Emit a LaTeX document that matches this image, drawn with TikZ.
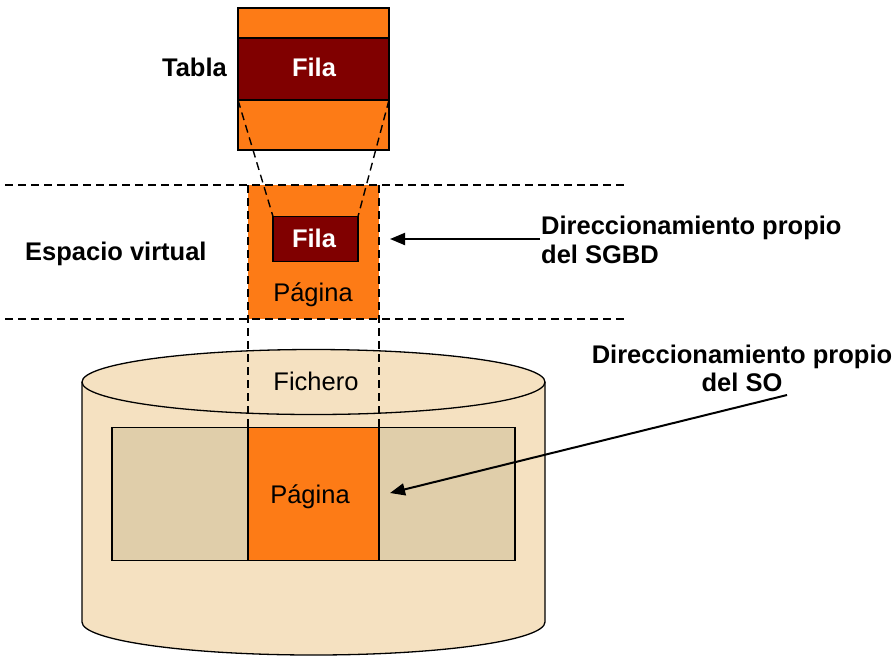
\documentclass[tikz,border=0pt]{standalone}
\usepackage{fontspec}
\setmainfont{Liberation Sans}
\usetikzlibrary{arrows.meta}

\definecolor{pageorange}{RGB}{253,123,22}
\definecolor{rowred}{RGB}{128,0,0}
\definecolor{diskbeige}{RGB}{245,225,193}
\definecolor{blockbeige}{RGB}{224,206,170}

\begin{document}
\begin{tikzpicture}[x=1pt,y=-1pt,
  txt/.style={inner sep=0pt,font=\fontsize{25.5}{28.5}\selectfont},
  bold/.style={txt,font=\fontsize{25.5}{28.5}\selectfont\bfseries},
  box/.style={inner sep=0pt,outer sep=0pt,draw=black,line width=1.3pt},
  guide/.style={line width=1.4pt,dash pattern=on 8pt off 5pt},
  pointer/.style={line width=2pt,-{Triangle[length=15pt,width=12pt]}}]
\useasboundingbox (0,0) rectangle (896,657);

% ---- table with one highlighted row ----
\node[box,fill=pageorange,minimum width=151pt,minimum height=142pt] (tabla) at (313.5,79) {};
\node[box,fill=rowred,minimum width=151pt,minimum height=62pt] (filaT) at (313.5,69) {};
\node[bold,text=white,anchor=base] (filaTtxt) at (314,76) {Fila};
\node[bold,anchor=base east] (tablaTxt) at (227,76) {Tabla};

% ---- virtual space band ----
\coordinate (bandTL) at (5,185);
\coordinate (bandTR) at (625,185);
\coordinate (bandBL) at (5,319);
\coordinate (bandBR) at (625,319);
\node[inner sep=0pt,outer sep=0pt,fill=pageorange,minimum width=131pt,minimum height=134pt] (pagV) at (313.5,252) {};
\node[box,fill=rowred,minimum width=85pt,minimum height=45pt] (filaV) at (315.5,239) {};
\node[bold,text=white,anchor=base] (filaVtxt) at (314,247) {Fila};
\node[txt,anchor=base] (pagVtxt) at (313,301) {Página};
\node[bold,anchor=base west] (espacio) at (25,260) {Espacio virtual};
\draw[guide] (bandTL) -- (bandTR);
\draw[guide] (bandBL) -- (bandBR);

% row of the table mapped onto the page
\draw[guide] (filaT.south west) -- (filaV.north west);
\draw[guide] (filaT.south east) -- (filaV.north east);

% ---- file on disk ----
\fill[diskbeige] (82,382) -- (82,622) arc[start angle=180,end angle=360,x radius=231.5pt,y radius=33pt]
  -- (545,382) arc[start angle=0,end angle=180,x radius=231.5pt,y radius=32.5pt] -- cycle;
\draw[line width=1.3pt] (82,382) -- (82,622) arc[start angle=180,end angle=360,x radius=231.5pt,y radius=33pt] -- (545,382);
\draw[line width=1.3pt] (313.5,382) ellipse[x radius=231.5pt,y radius=32.5pt];
\node[box,fill=blockbeige,minimum width=403pt,minimum height=133pt] (bloque) at (313.5,494) {};
\node[box,fill=pageorange,minimum width=131pt,minimum height=133pt] (pagD) at (313.5,494) {};
\node[txt,anchor=base] (fichero) at (316,390.5) {Fichero};
\node[txt,anchor=base] (pagDtxt) at (310,503) {Página};

% page edges projected from virtual space onto the file
\draw[guide] (pagV.north west) -- (pagD.north west);
\draw[guide] (pagV.north east) -- (pagD.north east);

% ---- addressing labels ----
\node[bold,anchor=base west,align=left] (sgbd) at (541,263) {Direccionamiento propio\\del SGBD};
\coordinate (sgbdStart) at (540,239);
\coordinate (sgbdEnd) at (390,239);
\draw[pointer] (sgbdStart) -- (sgbdEnd);

\node[bold,anchor=base,align=center] (so) at (742,391.5) {Direccionamiento propio\\del SO};
\coordinate (soStart) at (787,395);
\coordinate (soEnd) at (390,493);
\draw[pointer] (soStart) -- (soEnd);
\end{tikzpicture}
\end{document}
